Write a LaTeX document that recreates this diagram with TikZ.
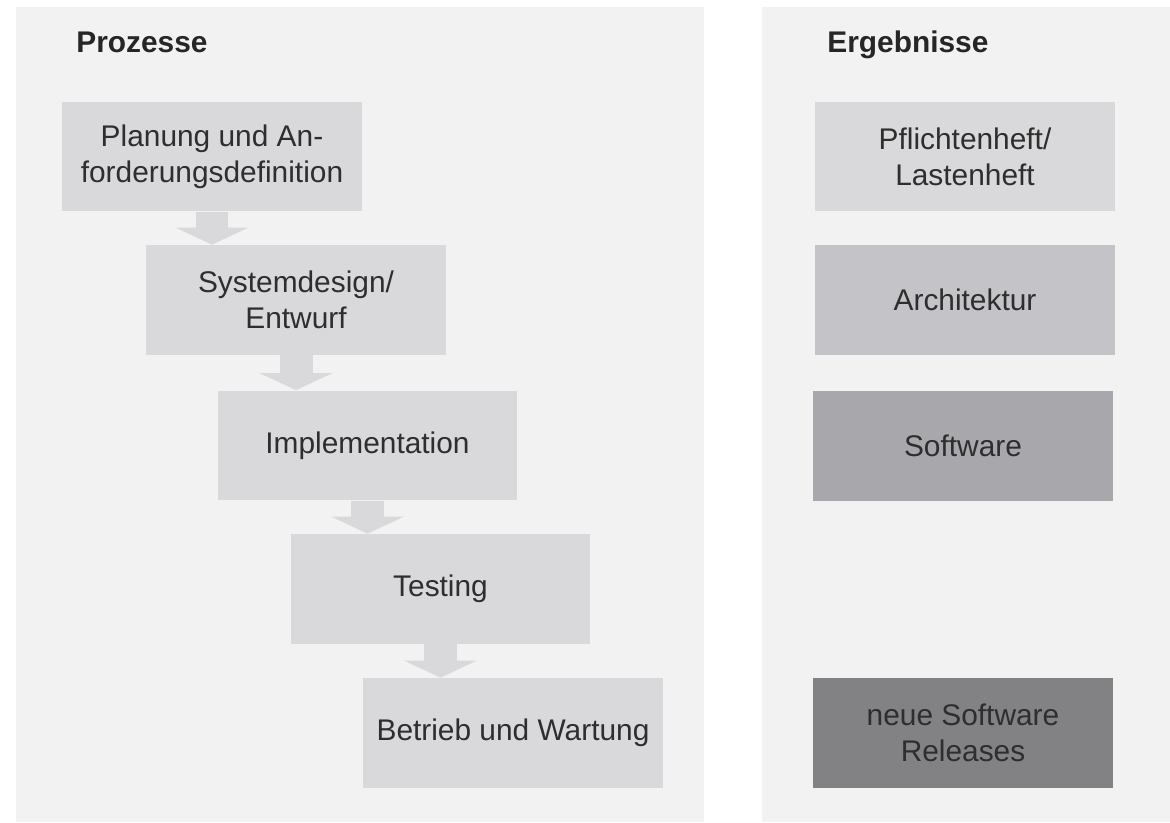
\documentclass[tikz,border=0pt]{standalone}
\usepackage{fontspec}
\setmainfont{Liberation Sans}
\usetikzlibrary{arrows.meta}

\definecolor{panelgray}{HTML}{F2F2F2}
\definecolor{boxgray}{HTML}{D9D9DB}
\definecolor{archgray}{HTML}{C4C3C7}
\definecolor{softgray}{HTML}{A8A7AB}
\definecolor{relgray}{HTML}{828183}
\definecolor{textgray}{HTML}{2E2E2E}

\tikzset{
  panel/.style={fill=panelgray, draw=none},
  phase/.style={fill=boxgray, draw=none, minimum width=6cm, minimum height=2.2cm,
    inner sep=0pt, align=center, text=textgray,
    font=\fontsize{17}{20.5}\selectfont},
  heading/.style={anchor=base west, inner sep=0pt, text=black!85,
    font=\fontsize{17}{20.5}\selectfont\bfseries},
  flow/.style={draw=boxgray, line width=0.66cm,
    -{Triangle[width=1.44cm, length=0.34cm]}},
}

\begin{document}
\begin{tikzpicture}[x=0.02cm, y=-0.02cm]
\useasboundingbox (0,0) rectangle (1170,822);
%
\fill [panel] (16,7) rectangle (704,822);
\fill [panel] (762,7) rectangle (1170,822);
%
\node (prozesse) at (76,52) [heading] {Prozesse};
\node (ergebnisse) at (827,52) [heading] {Ergebnisse};
%
\node (planung) at (212,156.5) [phase] {Planung und An-\\forderungsdefinition};
\node (design) at (296,300) [phase] {Systemdesign/\\Entwurf};
\node (impl) at (367.5,445.5) [phase] {Implementation};
\node (testing) at (440.5,589) [phase] {Testing};
\node (betrieb) at (513,733) [phase] {Betrieb und Wartung};
%
\draw [flow] (planung.south) -- (planung.south |- design.north);
\draw [flow] (design.south) -- (design.south |- impl.north);
\draw [flow] (impl.south) -- (impl.south |- testing.north);
\draw [flow] (testing.south) -- (testing.south |- betrieb.north);
%
\node (pflicht) at (965,156.5) [phase] {Pflichtenheft/\\Lastenheft};
\node (archi) at (965,300) [phase, fill=archgray] {Architektur};
\node (software) at (963,446) [phase, fill=softgray] {Software};
\node (releases) at (963,733) [phase, fill=relgray] {neue Software\\Releases};
\end{tikzpicture}
\end{document}
